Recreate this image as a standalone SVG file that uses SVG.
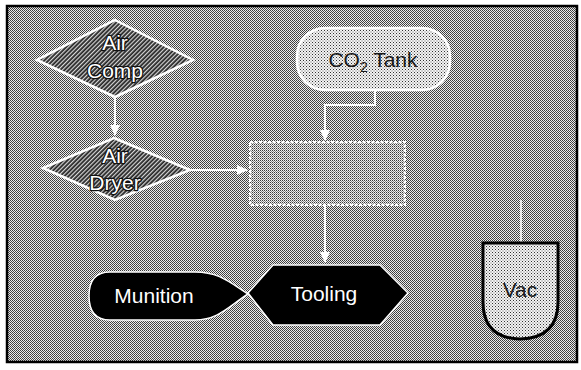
<svg xmlns="http://www.w3.org/2000/svg" width="581" height="370" viewBox="0 0 581 370">
  <defs>
    <!-- halftone screens -->
    <pattern id="screen" width="2" height="2" patternUnits="userSpaceOnUse">
      <rect width="2" height="2" fill="#ececec"/>
      <rect x="0" y="0" width="1" height="1" fill="#3a3a3a"/>
      <rect x="1" y="1" width="1" height="1" fill="#4a4a4a"/>
    </pattern>
    <pattern id="screenLight" width="3" height="3" patternUnits="userSpaceOnUse">
      <rect width="3" height="3" fill="#f4f4f4"/>
      <rect x="0" y="0" width="1" height="1" fill="#333"/>
      <rect x="1.5" y="1.5" width="1" height="1" fill="#666"/>
    </pattern>
    <pattern id="screenMid" width="2" height="2" patternUnits="userSpaceOnUse">
      <rect width="2" height="2" fill="#f0f0f0"/>
      <rect x="0" y="0" width="1" height="1" fill="#3a3a3a"/>
      <rect x="1" y="1" width="1" height="1" fill="#888"/>
    </pattern>
    <pattern id="hatch" width="3" height="3" patternUnits="userSpaceOnUse" patternTransform="rotate(-45)">
      <rect width="3" height="3" fill="#262626"/>
      <rect x="0" y="0" width="3" height="1.2" fill="#d8d8d8"/>
    </pattern>
    <marker id="arrow" markerWidth="12" markerHeight="12" refX="10" refY="6" orient="auto" markerUnits="userSpaceOnUse">
      <path d="M0,1 L11,6 L0,11 Z" fill="#ffffff"/>
    </marker>
    <style>
      .lbl { font-family: "Liberation Sans", Arial, sans-serif; font-size: 21px; text-anchor: middle; }
      .onHatch { fill: #ffffff; stroke: #111; stroke-width: 2.5px; paint-order: stroke; stroke-linejoin: round; }
      .onDark { fill: #ffffff; }
      .onLight { fill: #1a1a1a; }
      .conn { fill: none; stroke: #ffffff; stroke-width: 2; }
    </style>
  </defs>

  <!-- ground and frame -->
  <rect x="0" y="0" width="581" height="370" fill="#ffffff"/>
  <rect x="7" y="6" width="570" height="356" fill="url(#screen)" stroke="#000" stroke-width="2.5"/>

  <!-- connectors -->
  <g id="connectors">
    <path class="conn" d="M115,98 L115,135" marker-end="url(#arrow)"/>
    <path class="conn" d="M190,170 L247,170" marker-end="url(#arrow)"/>
    <path class="conn" d="M375,90 L375,105 L325,105 L325,140" marker-end="url(#arrow)"/>
    <path class="conn" d="M325,205 L325,262" marker-end="url(#arrow)"/>
    <path class="conn" d="M521,200 L521,243" stroke-width="1.2" opacity="0.8"/>
  </g>

  <g id="air-comp">
    <polygon points="115,20 193,60 115,97 37,60" fill="url(#hatch)" stroke="#fff" stroke-width="2.5"/>
    <text class="lbl onHatch" x="115" y="50">Air</text>
    <text class="lbl onHatch" x="115" y="78">Comp</text>
  </g>

  <g id="air-dryer">
    <polygon points="114,138 190,170 115,200 43,168" fill="url(#hatch)" stroke="#fff" stroke-width="2.5"/>
    <text class="lbl onHatch" x="115" y="163">Air</text>
    <text class="lbl onHatch" x="115" y="190">Dryer</text>
  </g>

  <g id="co2-tank">
    <rect x="297" y="28" width="153" height="62" rx="28" ry="28" fill="url(#screenLight)" stroke="#fff" stroke-width="2.5"/>
    <text class="lbl onLight" x="373" y="67">CO<tspan font-size="14" dy="5">2</tspan><tspan dy="-5"> Tank</tspan></text>
  </g>

  <g id="station">
    <rect x="250" y="142" width="155" height="63" fill="url(#screenMid)" stroke="#fff" stroke-width="2" stroke-dasharray="3 1.5"/>
  </g>

  <g id="tooling">
    <polygon points="273,265 380,265 408,293 380,325 273,325 248,293" fill="#000" stroke="#fff" stroke-width="1.5"/>
    <text class="lbl onDark" x="324" y="301" font-size="22">Tooling</text>
  </g>

  <g id="munition">
    <path d="M248,294 C228,281 218,272 195,272 L110,272 Q89,272 89,296 Q89,320 110,320 L195,320 C218,320 228,307 248,294 Z" fill="#000" stroke="#fff" stroke-width="1.5"/>
    <text class="lbl onDark" x="154" y="303" font-size="22">Munition</text>
  </g>

  <g id="vac">
    <path d="M483,243 L558,243 L558,302 Q558,338 520,339 Q483,338 483,302 Z" fill="url(#screenLight)" stroke="#000" stroke-width="3"/>
    <text class="lbl onLight" x="520" y="297">Vac</text>
  </g>
</svg>
